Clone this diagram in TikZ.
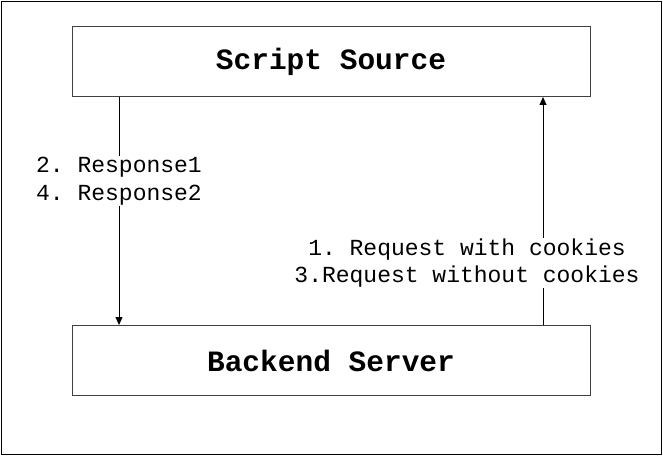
\documentclass[tikz,border=0pt]{standalone}
\usepackage{fontspec}
\setmonofont{Liberation Mono}
\usetikzlibrary{arrows.meta, positioning}

\begin{document}
\begin{tikzpicture}[x=1pt, y=1pt]
        \tikzstyle{server} = [rectangle, draw=black!75, line width=1pt, minimum width=518pt, minimum height=70pt, font=\fontsize{29.5}{32}\selectfont\ttfamily\bfseries];
        \tikzstyle{msg} = [fill=white, inner sep=1pt, align=center, font=\fontsize{23}{27.5}\selectfont\ttfamily];
        \tikzstyle{flow} = [line width=0.8pt, -{Triangle[length=8pt, width=7pt]}];

        \useasboundingbox (0,0) rectangle (663,456);
        \draw[line width=1pt] (1.5,1.5) rectangle (661.5,454.5);

        \node(src) [server] at (331,394.5) {Script Source};
        \node(backend) [server] at (331,95.5) {Backend Server};

        \coordinate (resp) at (119,0);
        \coordinate (req) at (543,0);

        \draw[flow] (src.south -| resp) -- (backend.north -| resp);
        \draw[flow] (backend.north -| req) -- (src.south -| req);

        \node(resplabel) [msg] at (119,275) {2. Response1\\4. Response2};
        \node(reqlabel) [msg] at (467,193) {1. Request with cookies\\3.Request without cookies};

    \end{tikzpicture}
\end{document}
